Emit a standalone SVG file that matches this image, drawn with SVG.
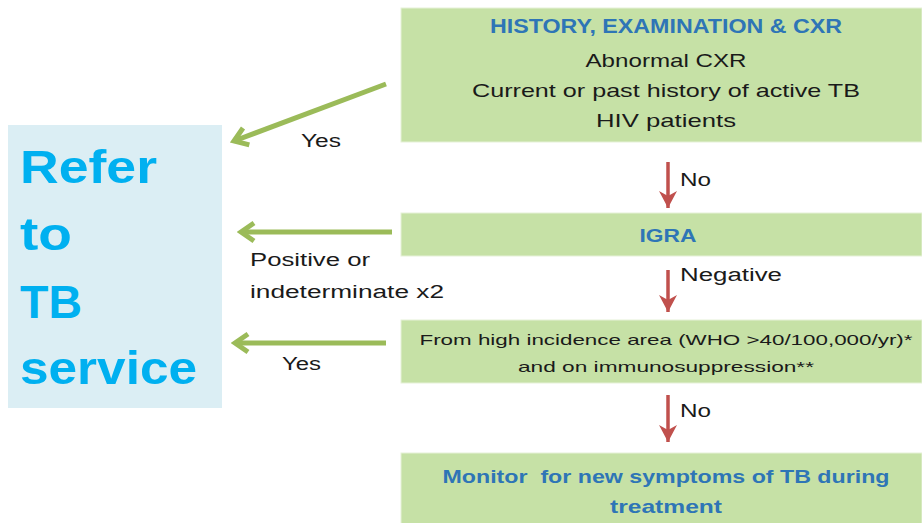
<svg xmlns="http://www.w3.org/2000/svg" width="922" height="523" viewBox="0 0 922 523">
<style>
.box{fill:#c6e1a6;stroke:#e6f1d8;stroke-width:1}
.refer{fill:#dbeef4}
.t{font-family:"Liberation Sans",Arial,sans-serif;fill:#1a1a1a;text-anchor:middle}
.h{font-family:"Liberation Sans",Arial,sans-serif;fill:#2e75b6;font-weight:bold;text-anchor:middle}
.lbl{font-family:"Liberation Sans",Arial,sans-serif;fill:#1a1a1a;font-size:18px}
.big{font-family:"Liberation Sans",Arial,sans-serif;fill:#00b0f0;font-weight:bold;font-size:46px}
.g{stroke:#9bbb59;stroke-width:5;fill:none}
.r{stroke:#c0504d;stroke-width:3.5;fill:none}
</style>
<defs>
<marker id="ga" markerUnits="userSpaceOnUse" viewBox="-20 -12 24 24" markerWidth="24" markerHeight="24" refX="0" refY="0" orient="auto">
<path d="M-13,-9 L0,0 L-13,9" fill="none" stroke="#9bbb59" stroke-width="5" stroke-linejoin="miter"/>
</marker>
<marker id="ra" markerUnits="userSpaceOnUse" viewBox="-20 -12 22 24" markerWidth="22" markerHeight="24" refX="0" refY="0" orient="auto">
<path d="M-17,-9 L0,0 L-17,9 L-12,0 z" fill="#c0504d"/>
</marker>
</defs>

<g id="refer">
<rect class="refer" x="8" y="125" width="214" height="283"/>
<text class="big" x="20" y="183" textLength="137" lengthAdjust="spacingAndGlyphs">Refer</text>
<text class="big" x="20" y="250" textLength="52" lengthAdjust="spacingAndGlyphs">to</text>
<text class="big" x="20" y="318" textLength="62" lengthAdjust="spacingAndGlyphs">TB</text>
<text class="big" x="20" y="384" textLength="177" lengthAdjust="spacingAndGlyphs">service</text>
</g>

<g id="history">
<rect class="box" x="401" y="8" width="521" height="134"/>
<text class="h" x="666" y="33" font-size="20" textLength="352" lengthAdjust="spacingAndGlyphs">HISTORY, EXAMINATION &amp; CXR</text>
<text class="t" x="666" y="67" font-size="19" textLength="161" lengthAdjust="spacingAndGlyphs">Abnormal CXR</text>
<text class="t" x="666" y="97" font-size="19" textLength="388" lengthAdjust="spacingAndGlyphs">Current or past history of active TB</text>
<text class="t" x="666" y="127" font-size="19" textLength="140" lengthAdjust="spacingAndGlyphs">HIV patients</text>
</g>

<g id="igra">
<rect class="box" x="401" y="213" width="521" height="43"/>
<text class="h" x="668" y="242" font-size="19" textLength="57" lengthAdjust="spacingAndGlyphs">IGRA</text>
</g>

<g id="highincidence">
<rect class="box" x="401" y="320" width="521" height="63"/>
<text class="t" x="666" y="345" font-size="15" textLength="493" lengthAdjust="spacingAndGlyphs">From high incidence area (WHO &gt;40/100,000/yr)*</text>
<text class="t" x="666" y="372" font-size="15" textLength="296" lengthAdjust="spacingAndGlyphs">and on immunosuppression**</text>
</g>

<g id="monitor">
<rect class="box" x="401" y="453" width="521" height="72"/>
<text class="h" x="666" y="483" font-size="19" textLength="447" lengthAdjust="spacingAndGlyphs" xml:space="preserve">Monitor  for new symptoms of TB during</text>
<text class="h" x="666" y="513" font-size="19" textLength="112" lengthAdjust="spacingAndGlyphs">treatment</text>
</g>

<g id="connectors">
<line class="g" x1="386" y1="84" x2="234" y2="141" marker-end="url(#ga)"/>
<line class="g" x1="392" y1="232" x2="241" y2="232" marker-end="url(#ga)"/>
<line class="g" x1="386" y1="343" x2="235" y2="343" marker-end="url(#ga)"/>
<line class="r" x1="668" y1="162" x2="668" y2="208" marker-end="url(#ra)"/>
<line class="r" x1="668" y1="270" x2="668" y2="312" marker-end="url(#ra)"/>
<line class="r" x1="668" y1="395" x2="668" y2="442" marker-end="url(#ra)"/>
<text class="lbl" x="301" y="147" textLength="40" lengthAdjust="spacingAndGlyphs">Yes</text>
<text class="lbl" x="250" y="266" textLength="120" lengthAdjust="spacingAndGlyphs">Positive or</text>
<text class="lbl" x="250" y="298" textLength="194" lengthAdjust="spacingAndGlyphs">indeterminate x2</text>
<text class="lbl" x="282" y="370" textLength="39" lengthAdjust="spacingAndGlyphs">Yes</text>
<text class="lbl" x="680" y="186" textLength="31" lengthAdjust="spacingAndGlyphs">No</text>
<text class="lbl" x="680" y="281" textLength="102" lengthAdjust="spacingAndGlyphs">Negative</text>
<text class="lbl" x="680" y="417" textLength="31" lengthAdjust="spacingAndGlyphs">No</text>
</g>
</svg>
